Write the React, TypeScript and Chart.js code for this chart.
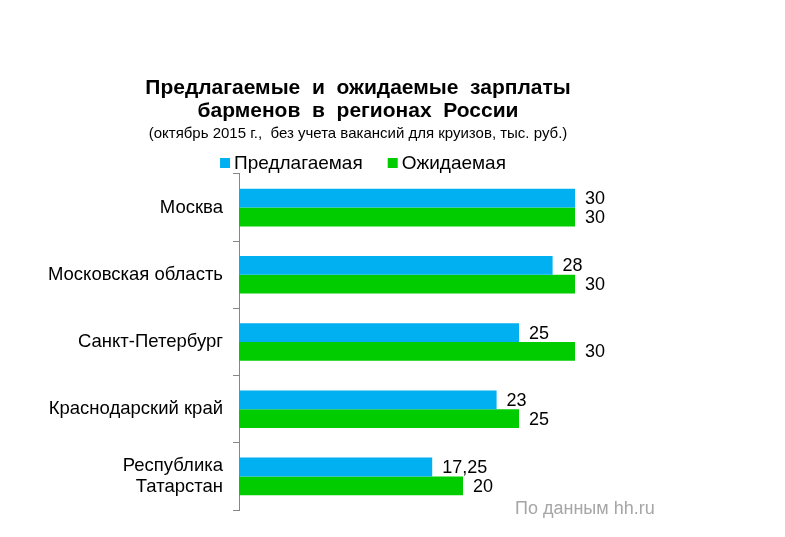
import React, { useEffect, useRef } from "react";
import { Chart, registerables } from "chart.js";

Chart.register(...registerables);

const categories: (string | string[])[] = [
  "Москва",
  "Московская область",
  "Санкт-Петербург",
  "Краснодарский край",
  ["Республика", "Татарстан"],
];
const offered = [30, 28, 25, 23, 17.25];
const expected = [30, 30, 30, 25, 20];
const seriesNames = ["Предлагаемая", "Ожидаемая"];
const seriesColors = ["#00B0F0", "#00CC00"];
const titleLines = ["Предлагаемые  и  ожидаемые  зарплаты", "барменов  в  регионах  России"];
const subtitleText = "(октябрь 2015 г.,  без учета вакансий для круизов, тыс. руб.)";
const sourceText = "По данным hh.ru";
const xMax = 40;

const FAMILY = "'Liberation Sans', Arial, sans-serif";

const valueLabels = {
  id: "valueLabels",
  afterDatasetsDraw(chart: any) {
    const ctx = chart.ctx;
    ctx.save();
    ctx.font = `18px ${FAMILY}`;
    ctx.fillStyle = "#000";
    ctx.textAlign = "left";
    ctx.textBaseline = "middle";
    chart.data.datasets.forEach((ds: any, di: number) => {
      const meta = chart.getDatasetMeta(di);
      meta.data.forEach((bar: any, i: number) => {
        const v = ds.data[i];
        ctx.fillText(String(v).replace(".", ","), bar.x + 10, bar.y + 1);
      });
    });
    ctx.restore();
  },
};

const customLegend = {
  id: "customLegend",
  afterDraw(chart: any) {
    const ctx = chart.ctx;
    ctx.save();
    ctx.font = `19px ${FAMILY}`;
    ctx.textBaseline = "middle";
    ctx.textAlign = "left";
    const box = 10;
    const gap = 4;
    const itemGap = 25;
    const items = chart.data.datasets.map((ds: any) => ({
      text: ds.label,
      color: ds.backgroundColor,
      w: box + gap + ctx.measureText(ds.label).width,
    }));
    const total = items.reduce((s: number, it: any) => s + it.w, 0) + itemGap * (items.length - 1);
    let x = 363 - total / 2;
    const yMid = 164;
    items.forEach((it: any) => {
      ctx.fillStyle = it.color;
      ctx.fillRect(x, yMid - 6, box, box);
      ctx.fillStyle = "#000";
      ctx.fillText(it.text, x + box + gap, yMid);
      x += it.w + itemGap;
    });
    ctx.restore();
  },
};

const sourceNote = {
  id: "sourceNote",
  afterDraw(chart: any) {
    const ctx = chart.ctx;
    ctx.save();
    ctx.font = `18px ${FAMILY}`;
    ctx.fillStyle = "#A6A6A6";
    ctx.textAlign = "left";
    ctx.textBaseline = "middle";
    ctx.fillText(sourceText, 515, 509);
    ctx.restore();
  },
};

export default function App() {
  const ref = useRef<HTMLCanvasElement | null>(null);

  useEffect(() => {
    if (!ref.current) return;
    const chart = new Chart(ref.current, {
      type: "bar",
      data: {
        labels: categories as any,
        datasets: [
          {
            label: seriesNames[0],
            data: offered,
            backgroundColor: seriesColors[0],
            categoryPercentage: 0.56,
            barPercentage: 1,
          },
          {
            label: seriesNames[1],
            data: expected,
            backgroundColor: seriesColors[1],
            categoryPercentage: 0.56,
            barPercentage: 1,
          },
        ],
      },
      options: {
        indexAxis: "y",
        responsive: false,
        animation: false,
        devicePixelRatio: 1,
        layout: { padding: { left: 29, right: 98, top: 0, bottom: 27 } },
        scales: {
          x: { display: false, min: 0, max: xMax },
          y: {
            grid: {
              display: true,
              drawOnChartArea: false,
              drawTicks: true,
              tickLength: 6,
              color: "#868686",
              offset: true,
            },
            border: { display: true, color: "#868686", width: 1 },
            ticks: {
              color: "#000",
              font: { size: 18.5, family: FAMILY, lineHeight: 1.17 },
              padding: 10,
              autoSkip: false,
            },
            afterFit: (s: any) => {
              s.width = 210;
            },
          },
        },
        plugins: {
          legend: { display: false },
          tooltip: { enabled: false },
          title: {
            display: true,
            text: titleLines,
            color: "#000",
            font: { size: 21, weight: "bold", family: FAMILY, lineHeight: 1.095 },
            padding: { top: 77, bottom: 0 },
          },
          subtitle: {
            display: true,
            text: subtitleText,
            color: "#000",
            font: { size: 15, family: FAMILY, lineHeight: 1.2 },
            padding: { top: 2, bottom: 31 },
          },
        },
      },
      plugins: [valueLabels, customLegend, sourceNote],
    } as any);
    return () => chart.destroy();
  }, []);

  return (
    <div style={{ position: "absolute", left: 0, top: 0, width: 785, height: 537, background: "#fff" }}>
      <canvas ref={ref} width={785} height={537} />
    </div>
  );
}
